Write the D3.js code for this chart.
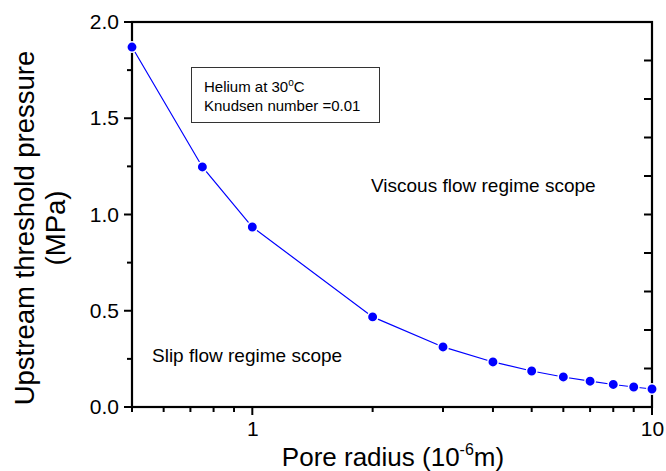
<!DOCTYPE html>
<html><head><meta charset="utf-8">
<script src="https://cdn.jsdelivr.net/npm/d3@7"></script>
<style>body{margin:0;background:#fff}svg{display:block}text{font-family:"Liberation Sans",Arial,sans-serif;fill:#000}</style>
</head><body>
<svg id="c" width="666" height="471"></svg>
<script>
const radius = [0.5, 0.75, 1, 2, 3, 4, 5, 6, 7, 8, 9, 10];
const pressure = [1.87, 1.247, 0.935, 0.468, 0.312, 0.234, 0.187, 0.156, 0.134, 0.117, 0.104, 0.0935];
const xMajorTicks = [1, 10];
const xMinorTicks = [0.5, 0.6, 0.7, 0.8, 0.9, 2, 3, 4, 5, 6, 7, 8, 9];
const yMajorTicks = [0, 0.5, 1.0, 1.5, 2.0];
const yMinorTicks = [0.25, 0.75, 1.25, 1.75];
const yRightTicks = [0.2, 0.4, 0.6, 0.8, 1.0, 1.2, 1.4, 1.6, 1.8];

const W = 666, H = 471;
const m = {l: 132, r: 14, t: 22, b: 64};
const svg = d3.select("#c");
const x = d3.scaleLog().domain([0.5, 10]).range([m.l, W - m.r]);
const y = d3.scaleLinear().domain([0, 2]).range([H - m.b, m.t]);
const font = '"Liberation Sans",Arial,sans-serif';
const X0 = x.range()[0], X1 = x.range()[1], Y0 = y.range()[0], Y1 = y.range()[1];

// axis labels through d3 axes (tick lines drawn separately below)
const gx = svg.append("g").attr("transform", `translate(0,${Y0})`)
  .call(d3.axisBottom(x).tickValues(xMajorTicks).tickFormat(d3.format("d")).tickSize(8).tickPadding(6).tickSizeOuter(0));
const gy = svg.append("g").attr("transform", `translate(${X0},0)`)
  .call(d3.axisLeft(y).tickValues(yMajorTicks).tickFormat(d3.format(".1f")).tickSize(8).tickPadding(5).tickSizeOuter(0));
svg.selectAll(".domain").remove();
svg.selectAll(".tick line").remove();
svg.selectAll(".tick text").style("font-size", "21px").style("font-family", font).attr("fill", "#000");

const tk = svg.append("g").attr("stroke", "#000").attr("stroke-width", 2);
function tick(x1, y1, x2, y2) { tk.append("line").attr("x1", x1).attr("y1", y1).attr("x2", x2).attr("y2", y2); }
xMajorTicks.forEach(v => tick(x(v), Y0, x(v), Y0 + 8));
xMinorTicks.forEach(v => tick(x(v), Y0, x(v), Y0 + 5));
yMajorTicks.forEach(v => tick(X0, y(v), X0 - 8, y(v)));
yMinorTicks.forEach(v => tick(X0, y(v), X0 - 5, y(v)));
yRightTicks.forEach(v => tick(X1, y(v), X1 - 8, y(v)));

// frame
svg.append("rect").attr("x", X0).attr("y", Y1).attr("width", X1 - X0).attr("height", Y0 - Y1)
  .attr("fill", "none").attr("stroke", "#000").attr("stroke-width", 2.2);

// line and markers
const line = d3.line().x((d, i) => x(radius[i])).y(d => y(d));
svg.append("path").datum(pressure).attr("d", line).attr("fill", "none").attr("stroke", "#0000ff").attr("stroke-width", 1.2);
svg.append("g").selectAll("circle").data(pressure).join("circle")
  .attr("cx", (d, i) => x(radius[i])).attr("cy", d => y(d)).attr("r", 5.2)
  .attr("fill", "#0000ff").attr("stroke", "#fff").attr("stroke-width", 1.5);

// annotation box
svg.append("rect").attr("x", 191.5).attr("y", 67.5).attr("width", 188).attr("height", 55).attr("fill", "none").attr("stroke", "#333").attr("stroke-width", 1);
const t1 = svg.append("text").attr("x", 204).attr("y", 92).style("font-size", "15px");
t1.append("tspan").text("Helium at 30");
t1.append("tspan").attr("dy", -6).style("font-size", "10px").text("o");
t1.append("tspan").attr("dy", 6).text("C");
svg.append("text").attr("x", 204).attr("y", 111).style("font-size", "15px").text("Knudsen number =0.01");

svg.append("text").attr("x", 371).attr("y", 192).style("font-size", "19px").text("Viscous flow regime scope");
svg.append("text").attr("x", 152).attr("y", 362).style("font-size", "19px").text("Slip flow regime scope");

// axis titles
const xt = svg.append("text").attr("x", 393).attr("y", 466).attr("text-anchor", "middle").style("font-size", "26px");
xt.append("tspan").text("Pore radius (10");
xt.append("tspan").attr("dy", -11).style("font-size", "16px").text("-6");
xt.append("tspan").attr("dy", 11).text("m)");
svg.append("text").attr("transform", "translate(34,228) rotate(-90)").attr("text-anchor", "middle").style("font-size", "27.5px").text("Upstream threshold pressure");
svg.append("text").attr("transform", "translate(65,228) rotate(-90)").attr("text-anchor", "middle").style("font-size", "27.5px").text("(MPa)");
</script>
</body></html>
